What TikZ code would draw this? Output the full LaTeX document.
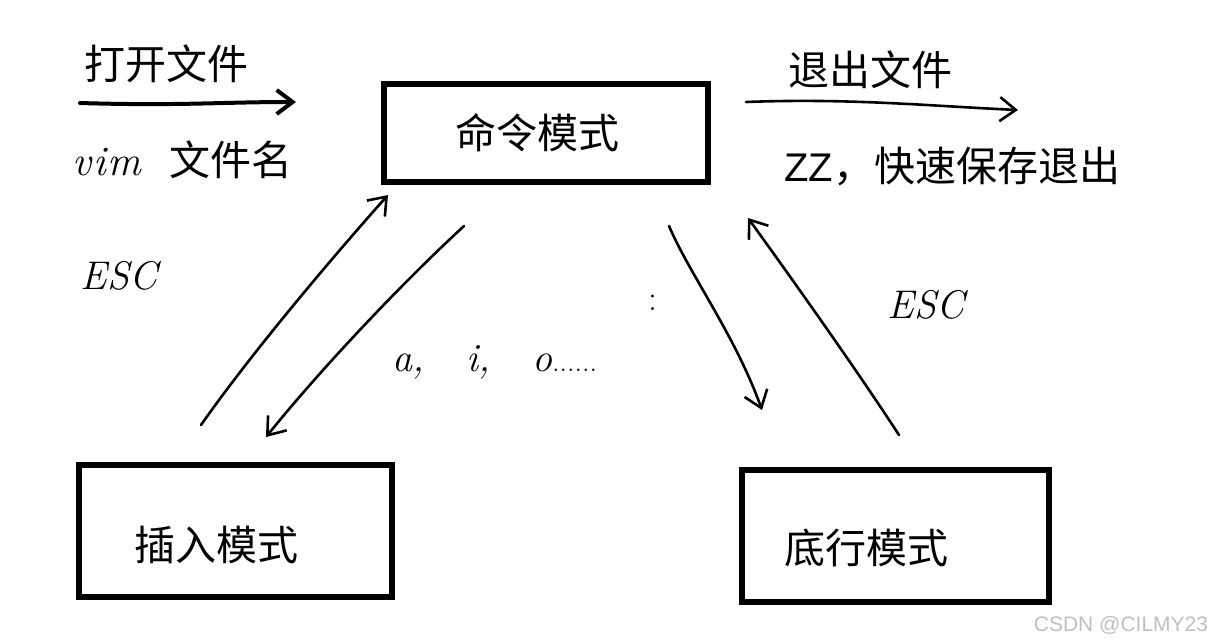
\documentclass[tikz,border=0pt]{standalone}
\usepackage{fontspec}
\newfontfamily\cjk{Noto Sans CJK SC}
\newfontfamily\latsans{Liberation Sans}
\usetikzlibrary{arrows.meta}
\begin{document}
\begin{tikzpicture}[x=1pt,y=-1pt,
  modebox/.style={draw,line width=6pt,inner sep=0pt},
  cjktext/.style={font=\cjk\fontsize{41}{43}\selectfont,inner sep=0pt},
  hand/.style={font=\itshape\fontsize{40}{42}\selectfont,inner sep=0pt},
  pen/.style={line width=2.6pt,line cap=round,-{Straight Barb[length=16pt,width=24pt,line width=2.6pt]}},
  thickpen/.style={line width=4pt,line cap=round,-{Straight Barb[length=16pt,width=24pt,line width=4pt]}}]
\useasboundingbox (0,0) rectangle (1215,643);
% boxes
\node[modebox,minimum width=324pt,minimum height=98pt] (cmd) at (546,132.5) {};
\node[cjktext] (cmdt) at (537,133) {命令模式};
\node[modebox,minimum width=313pt,minimum height=132pt] (ins) at (235,530.5) {};
\node[cjktext] (inst) at (216,545) {插入模式};
\node[modebox,minimum width=307pt,minimum height=132pt] (bot) at (895,535.5) {};
\node[cjktext] (bott) at (866,548) {底行模式};
% top labels
\node[cjktext] (open) at (166,64) {打开文件};
\node[anchor=west,inner sep=0pt] (vim) at (72,160) {{\itshape\fontsize{42}{44}\selectfont v\kern2pt i\kern2pt m}\hspace{28pt}{\cjk\fontsize{41}{43}\selectfont 文件名}};
\node[cjktext] (quit) at (870,70) {退出文件};
\node[anchor=west,inner sep=0pt] (zz) at (784,166) {{\latsans\fontsize{40}{42}\selectfont ZZ}{\cjk\fontsize{41}{43}\selectfont ，快速保存退出}};
% middle labels
\node[hand] (esc1) at (119,276) {ESC};
\node[hand] (esc2) at (926,305) {ESC};
\node[font=\fontsize{36}{38}\selectfont,inner sep=0pt] (colon) at (653,303) {:};
\node[hand,anchor=west] (aio) at (392,362) {a,\ \ \ i,\ \ \ o\textup{\fontsize{30}{32}\selectfont......}};
% watermark
\node[font=\latsans\fontsize{21}{23}\selectfont,text=black!25,inner sep=0pt] (wm) at (1121,625) {CSDN @CILMY23};
% arrow end points
\coordinate (o1) at (80,103);
\coordinate (o2) at (296,102);
\coordinate (q1) at (746,102);
\coordinate (q2) at (1018,110);
\coordinate (e1a) at (201,425);
\coordinate (e1b) at (388,195);
\coordinate (ia) at (464,226);
\coordinate (ib) at (266,437);
\coordinate (ca) at (669,226);
\coordinate (cb) at (762,410);
\coordinate (e2a) at (899,435);
\coordinate (e2b) at (748,218);
% arrows
\draw[thickpen] (o1) .. controls (180,106) and (220,102) .. (o2);
\draw[pen] (q1) .. controls (850,98) and (930,106) .. (q2);
\draw[pen] (e1a) .. controls (250,355) and (330,260) .. (e1b);
\draw[pen] (ia) .. controls (400,285) and (320,370) .. (ib);
\draw[pen] (ca) .. controls (690,275) and (735,335) .. (cb);
\draw[pen] (e2a) .. controls (860,375) and (800,290) .. (e2b);
\end{tikzpicture}
\end{document}
